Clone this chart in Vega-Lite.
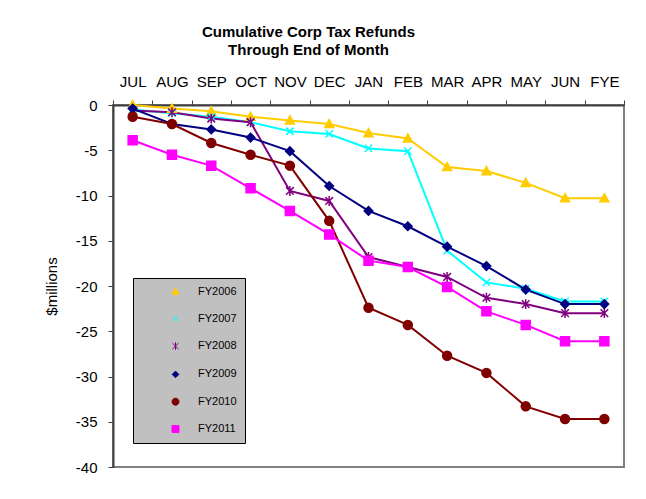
{
  "$schema": "https://vega.github.io/schema/vega-lite/v6.json",
  "autosize": {"type": "none"},
  "width": 511,
  "height": 362,
  "padding": {"left": 113, "top": 105, "right": 22, "bottom": 32},
  "background": "white",
  "title": {
    "text": ["Cumulative Corp Tax Refunds", "Through End of Month"],
    "font": "Liberation Sans",
    "fontSize": 15,
    "fontWeight": "bold",
    "color": "black",
    "lineHeight": 18,
    "anchor": "middle",
    "dx": -60,
    "offset": 16
  },
  "config": {
    "view": {"stroke": "#808080", "strokeWidth": 2},
    "axis": {
      "labelFont": "Liberation Sans",
      "labelFontSize": 15,
      "labelColor": "black",
      "titleFont": "Liberation Sans",
      "titleFontSize": 15,
      "titleFontWeight": "normal",
      "titleColor": "black",
      "domainColor": "#404040",
      "domainWidth": 2,
      "tickColor": "#404040",
      "tickWidth": 1,
      "tickSize": 5,
      "grid": false
    },
    "legend": {
      "labelFont": "Liberation Sans",
      "labelFontSize": 11,
      "labelColor": "black",
      "title": null,
      "orient": "none",
      "legendX": 20,
      "legendY": 173,
      "fillColor": "#C0C0C0",
      "strokeColor": "black",
      "padding": 8,
      "symbolSize": 49,
      "symbolStrokeWidth": 1,
      "symbolOffset": 29,
      "labelOffset": 17,
      "rowPadding": 15.3
    }
  },
  "data": {
    "values": [
      {"m": "JUL", "s": "FY2006", "v": 0},
      {"m": "AUG", "s": "FY2006", "v": -0.4},
      {"m": "SEP", "s": "FY2006", "v": -0.7},
      {"m": "OCT", "s": "FY2006", "v": -1.3},
      {"m": "NOV", "s": "FY2006", "v": -1.7},
      {"m": "DEC", "s": "FY2006", "v": -2.1},
      {"m": "JAN", "s": "FY2006", "v": -3.1},
      {"m": "FEB", "s": "FY2006", "v": -3.7},
      {"m": "MAR", "s": "FY2006", "v": -6.85},
      {"m": "APR", "s": "FY2006", "v": -7.3},
      {"m": "MAY", "s": "FY2006", "v": -8.6},
      {"m": "JUN", "s": "FY2006", "v": -10.3},
      {"m": "FYE", "s": "FY2006", "v": -10.3},
      {"m": "JUL", "s": "FY2007", "v": -0.5},
      {"m": "AUG", "s": "FY2007", "v": -0.9},
      {"m": "SEP", "s": "FY2007", "v": -1.3},
      {"m": "OCT", "s": "FY2007", "v": -1.9},
      {"m": "NOV", "s": "FY2007", "v": -2.9},
      {"m": "DEC", "s": "FY2007", "v": -3.2},
      {"m": "JAN", "s": "FY2007", "v": -4.8},
      {"m": "FEB", "s": "FY2007", "v": -5.1},
      {"m": "MAR", "s": "FY2007", "v": -16.1},
      {"m": "APR", "s": "FY2007", "v": -19.6},
      {"m": "MAY", "s": "FY2007", "v": -20.3},
      {"m": "JUN", "s": "FY2007", "v": -21.7},
      {"m": "FYE", "s": "FY2007", "v": -21.7},
      {"m": "JUL", "s": "FY2008", "v": -0.6},
      {"m": "AUG", "s": "FY2008", "v": -0.8},
      {"m": "SEP", "s": "FY2008", "v": -1.5},
      {"m": "OCT", "s": "FY2008", "v": -1.9},
      {"m": "NOV", "s": "FY2008", "v": -9.5},
      {"m": "DEC", "s": "FY2008", "v": -10.6},
      {"m": "JAN", "s": "FY2008", "v": -16.8},
      {"m": "FEB", "s": "FY2008", "v": -17.9},
      {"m": "MAR", "s": "FY2008", "v": -19.0},
      {"m": "APR", "s": "FY2008", "v": -21.3},
      {"m": "MAY", "s": "FY2008", "v": -22.0},
      {"m": "JUN", "s": "FY2008", "v": -23.0},
      {"m": "FYE", "s": "FY2008", "v": -23.0},
      {"m": "JUL", "s": "FY2009", "v": -0.4},
      {"m": "AUG", "s": "FY2009", "v": -2.1},
      {"m": "SEP", "s": "FY2009", "v": -2.7},
      {"m": "OCT", "s": "FY2009", "v": -3.6},
      {"m": "NOV", "s": "FY2009", "v": -5.1},
      {"m": "DEC", "s": "FY2009", "v": -8.95},
      {"m": "JAN", "s": "FY2009", "v": -11.7},
      {"m": "FEB", "s": "FY2009", "v": -13.4},
      {"m": "MAR", "s": "FY2009", "v": -15.65},
      {"m": "APR", "s": "FY2009", "v": -17.8},
      {"m": "MAY", "s": "FY2009", "v": -20.4},
      {"m": "JUN", "s": "FY2009", "v": -22.0},
      {"m": "FYE", "s": "FY2009", "v": -22.0},
      {"m": "JUL", "s": "FY2010", "v": -1.3},
      {"m": "AUG", "s": "FY2010", "v": -2.1},
      {"m": "SEP", "s": "FY2010", "v": -4.2},
      {"m": "OCT", "s": "FY2010", "v": -5.5},
      {"m": "NOV", "s": "FY2010", "v": -6.7},
      {"m": "DEC", "s": "FY2010", "v": -12.8},
      {"m": "JAN", "s": "FY2010", "v": -22.4},
      {"m": "FEB", "s": "FY2010", "v": -24.3},
      {"m": "MAR", "s": "FY2010", "v": -27.7},
      {"m": "APR", "s": "FY2010", "v": -29.6},
      {"m": "MAY", "s": "FY2010", "v": -33.3},
      {"m": "JUN", "s": "FY2010", "v": -34.7},
      {"m": "FYE", "s": "FY2010", "v": -34.7},
      {"m": "JUL", "s": "FY2011", "v": -3.9},
      {"m": "AUG", "s": "FY2011", "v": -5.5},
      {"m": "SEP", "s": "FY2011", "v": -6.7},
      {"m": "OCT", "s": "FY2011", "v": -9.2},
      {"m": "NOV", "s": "FY2011", "v": -11.7},
      {"m": "DEC", "s": "FY2011", "v": -14.3},
      {"m": "JAN", "s": "FY2011", "v": -17.2},
      {"m": "FEB", "s": "FY2011", "v": -17.9},
      {"m": "MAR", "s": "FY2011", "v": -20.1},
      {"m": "APR", "s": "FY2011", "v": -22.8},
      {"m": "MAY", "s": "FY2011", "v": -24.3},
      {"m": "JUN", "s": "FY2011", "v": -26.1},
      {"m": "FYE", "s": "FY2011", "v": -26.1}
    ]
  },
  "encoding": {
    "x": {
      "field": "m",
      "type": "ordinal",
      "sort": ["JUL", "AUG", "SEP", "OCT", "NOV", "DEC", "JAN", "FEB", "MAR", "APR", "MAY", "JUN", "FYE"],
      "scale": {"type": "band", "paddingInner": 0, "paddingOuter": 0},
      "axis": {
        "orient": "top",
        "title": null,
        "labelAngle": 0,
        "tickBand": "extent",
        "labelPadding": 11
      }
    },
    "y": {
      "field": "v",
      "type": "quantitative",
      "scale": {"domain": [-40, 0], "nice": false, "zero": false},
      "axis": {
        "values": [0, -5, -10, -15, -20, -25, -30, -35, -40],
        "labelExpr": "'' + datum.value",
        "title": "$millions",
        "labelPadding": 11,
        "titlePadding": 16
      }
    },
    "color": {
      "field": "s",
      "type": "nominal",
      "scale": {
        "domain": ["FY2006", "FY2007", "FY2008", "FY2009", "FY2010", "FY2011"],
        "range": ["#FFCC00", "#00FFFF", "#800080", "#000080", "#800000", "#FF00FF"]
      }
    }
  },
  "layer": [
    {
      "mark": {"type": "line", "strokeWidth": 2}
    },
    {
      "mark": {"type": "point", "filled": true, "opacity": 1, "size": 81, "strokeWidth": 1.5},
      "encoding": {
        "stroke": {
          "field": "s",
          "type": "nominal",
          "scale": {
            "domain": ["FY2006", "FY2007", "FY2008", "FY2009", "FY2010", "FY2011"],
            "range": ["#FFCC00", "#00FFFF", "#800080", "#000080", "#800000", "#FF00FF"]
          }
        },
        "shape": {
          "field": "s",
          "type": "nominal",
          "scale": {
            "domain": ["FY2006", "FY2007", "FY2008", "FY2009", "FY2010", "FY2011"],
            "range": [
              "m0,-1l1,1.8h-2z",
              "m-0.8,-0.8l1.6,1.6m-1.6,0l1.6,-1.6",
              "m-0.85,-0.85l1.7,1.7m-1.7,0l1.7,-1.7m-0.85,-0.25v2.2",
              "m0,-0.95l0.95,0.95l-0.95,0.95l-0.95,-0.95z",
              "m-1,0a1,1 0 1,0 2,0a1,1 0 1,0 -2,0z",
              "m-1,-1h2v2h-2z"
            ]
          }
        }
      }
    }
  ]
}
